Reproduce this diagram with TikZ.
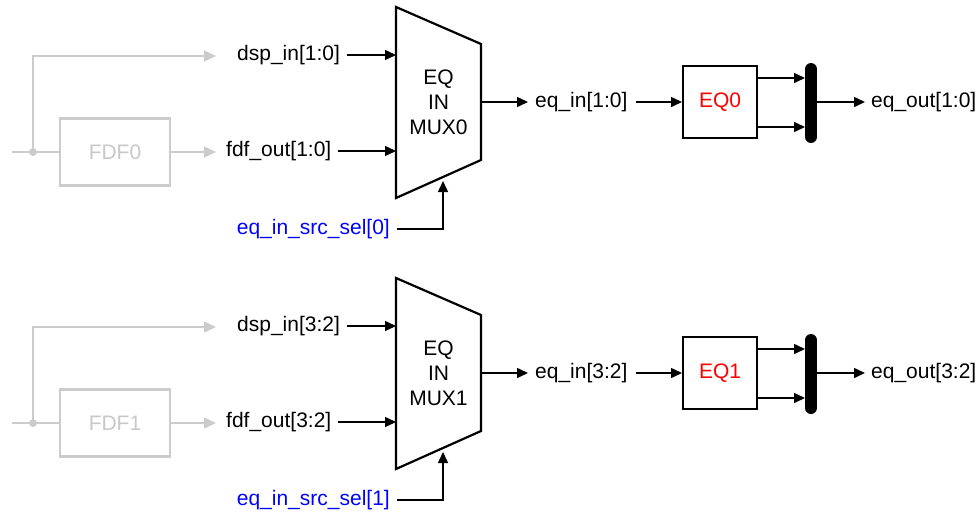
\documentclass[tikz,border=0pt]{standalone}
\usepackage{fontspec}
\setmainfont{Liberation Sans}
\usetikzlibrary{arrows.meta,calc}
\definecolor{lgray}{RGB}{204,204,204}
\definecolor{tgray}{RGB}{200,200,200}
\definecolor{selblue}{RGB}{0,0,255}
\definecolor{eqred}{RGB}{255,0,0}
\begin{document}
\begin{tikzpicture}[x=1pt,y=-1pt,
  lbl/.style={font=\fontsize{21}{25}\selectfont, inner sep=0pt},
  sig/.style={line width=1.5pt, -{Triangle[length=11pt,width=10pt]}},
  gsig/.style={line width=1.5pt, draw=lgray, -{Triangle[length=12pt,width=11pt,fill=lgray]}},
  gline/.style={line width=1.5pt, draw=lgray},
  blk/.style={draw, line width=2pt, minimum width=74pt, minimum height=72pt, inner sep=0pt},
  gblk/.style={draw=lgray, line width=2.2pt, minimum width=110pt, minimum height=67pt, inner sep=0pt, text=tgray, font=\fontsize{21}{25}\selectfont},
  muxshape/.style={draw, line width=2.2pt, line join=miter},
  busbar/.style={line width=12pt, line cap=round}
]
\useasboundingbox (0,0) rectangle (979,514);
\foreach \i/\off/\hi/\lo in {0/0/1/0, 1/271/3/2}{
  \begin{scope}[yshift=-\off pt]
    % gray source part
    \coordinate (src\i) at (12,152);
    \node[gblk] (fdfbox\i) at (115,152) {FDF\i};
    \fill[lgray] (33,152) circle (4pt) coordinate (dot\i);
    \coordinate (dtip\i) at (216,56);
    \coordinate (ftip\i) at (216,152);
    \draw[gline] (src\i) -- (fdfbox\i.west);
    \draw[gsig] (dot\i) |- (dtip\i);
    \draw[gsig] (fdfbox\i.east) -- (ftip\i);
    % labels
    \node[lbl, anchor=west] (dsp\i) at (237,55) {dsp\_in[\hi:\lo]};
    \node[lbl, anchor=west] (fdf\i) at (226,151) {fdf\_out[\hi:\lo]};
    \node[lbl, anchor=east, text=selblue] (sel\i) at (390,229) {eq\_in\_src\_sel[\i]};
    % mux
    \coordinate (mtl\i) at (396,7);
    \coordinate (mtr\i) at (481,44);
    \coordinate (mbr\i) at (481,160);
    \coordinate (mbl\i) at (396,198);
    \draw[muxshape] (mtl\i) -- (mtr\i) -- (mbr\i) -- (mbl\i) -- cycle;
    \node[lbl, align=center] (mux\i) at (438.5,102) {EQ\\IN\\MUX\i};
    \coordinate (ma\i) at (396,55);
    \coordinate (mb\i) at (396,151);
    \coordinate (mo\i) at (481,102);
    \coordinate (ms\i) at (443,181);
    \draw[sig] ($(dsp\i.east)+(7,0)$) -- (ma\i);
    \draw[sig] ($(fdf\i.east)+(7,0)$) -- (mb\i);
    \draw[sig] ($(sel\i.east)+(7,0)$) -| (ms\i);
    % eq_in
    \node[lbl, anchor=west] (eqin\i) at (535,102) {eq\_in[\hi:\lo]};
    \draw[sig] (mo\i) -- (eqin\i.west -| 528,0) ;
    \node[blk, text=eqred, font=\fontsize{21}{25}\selectfont] (eq\i) at (720,102) {EQ\i};
    \draw[sig] ($(eqin\i.east)+(8,0)$) -- (eq\i.west);
    % bus
    \coordinate (busT\i) at (811,69);
    \coordinate (busB\i) at (811,137);
    \draw[busbar] (busT\i) -- (busB\i);
    \coordinate (ba\i) at (805,78);
    \coordinate (bb\i) at (805,127);
    \draw[sig] (eq\i.east |- ba\i) -- (ba\i);
    \draw[sig] (eq\i.east |- bb\i) -- (bb\i);
    \node[lbl, anchor=west] (out\i) at (871,102) {eq\_out[\hi:\lo]};
    \coordinate (bo\i) at (817,102);
    \draw[sig] (bo\i) -- ($(out\i.west)+(-6,0)$);
  \end{scope}
}
\end{tikzpicture}
\end{document}
